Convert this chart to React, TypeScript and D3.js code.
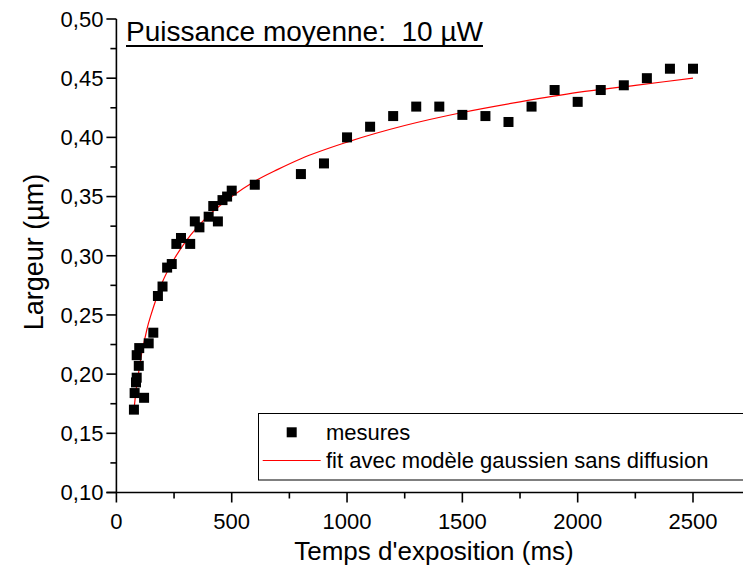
import React from 'react';
import * as d3 from 'd3';

// Measured points: exposure time (ms) and width (µm)
const measureTimes = [76, 79, 85, 88, 97, 88, 99, 120, 140, 160, 180, 200, 220, 240, 260, 280, 320, 340, 360, 400, 420, 440, 460, 480, 500, 600,
  800, 900, 1000, 1100, 1200, 1300, 1400, 1500, 1600, 1700, 1800, 1900, 2000, 2100, 2200, 2300, 2400, 2500];
const measureWidths = [0.170, 0.184, 0.193, 0.197, 0.207, 0.216, 0.222, 0.180, 0.226, 0.235, 0.266, 0.274, 0.290, 0.293, 0.310, 0.315, 0.310, 0.329, 0.324, 0.333, 0.342, 0.329, 0.347, 0.350, 0.355, 0.360,
  0.369, 0.378, 0.400, 0.409, 0.418, 0.426, 0.426, 0.419, 0.418, 0.413, 0.426, 0.440, 0.430, 0.440, 0.444, 0.450, 0.458, 0.458];

// Fit curve
const fitTimes = [76, 80, 85, 90, 100, 110, 120, 135, 150, 175, 200, 250, 300, 350, 400, 500, 600, 700, 800, 1000, 1250, 1500, 1750, 2000, 2250, 2500];
const fitWidths = [0.170, 0.177, 0.186, 0.193, 0.206, 0.218, 0.227, 0.240, 0.250, 0.265, 0.278, 0.297, 0.312, 0.324, 0.334, 0.350, 0.363, 0.373, 0.382, 0.396, 0.410, 0.421, 0.430, 0.438, 0.444, 0.450];

const xMajorTicks = [0, 500, 1000, 1500, 2000, 2500];
const xMinorTicks = [250, 750, 1250, 1750, 2250];
const yMajorTicks = [0.10, 0.15, 0.20, 0.25, 0.30, 0.35, 0.40, 0.45, 0.50];
const yMinorTicks = [0.125, 0.175, 0.225, 0.275, 0.325, 0.375, 0.425, 0.475];

const titleText = 'Puissance moyenne:  10 \u00b5W';
const xLabel = "Temps d'exposition (ms)";
const yLabel = 'Largeur (\u00b5m)';
const legendLabels = ['mesures', 'fit avec modèle gaussien sans diffusion'];

const FONT = '"Liberation Sans", Arial, sans-serif';

export default function App() {
  const W = 743, H = 569;
  const x = d3.scaleLinear().domain([0, 2500]).range([116.4, 693]);
  const y = d3.scaleLinear().domain([0.1, 0.5]).range([492.5, 19]);
  const x0 = x(0), y0 = y(0.1);
  const fmtY = (v: number) => d3.format('.2f')(v).replace('.', ',');
  const fitData: [number, number][] = fitTimes.map((t, i) => [t, fitWidths[i]]);
  const line = d3.line<[number, number]>().x(d => x(d[0])).y(d => y(d[1])).curve(d3.curveMonotoneX);
  const sq = 10;
  const majorLen = 10, minorLen = 6;

  return (
    <svg width={W} height={H} style={{ position: 'absolute', left: 0, top: 0, background: '#fff' }} fontFamily={FONT}>
      <rect x={0} y={0} width={W} height={H} fill="#fff" />
      {/* title */}
      <text x={126} y={41} fontSize={28} style={{ whiteSpace: 'pre' }} fill="#000">{titleText}</text>
      <line x1={126} x2={483} y1={46} y2={46} stroke="#000" strokeWidth={2} />

      {/* legend */}
      <rect x={258.5} y={413.5} width={520} height={66.5} fill="#fff" stroke="#000" strokeWidth={1} />
      <rect x={291.7 - sq / 2} y={432.3 - sq / 2} width={sq} height={sq} fill="#000" />
      <line x1={262.7} x2={320.7} y1={460.5} y2={460.5} stroke="#ff0000" strokeWidth={1} />
      <text x={326} y={440} fontSize={22} fill="#000">{legendLabels[0]}</text>
      <text x={326} y={468} fontSize={22} fill="#000">{legendLabels[1]}</text>

      {/* fit line */}
      <path d={line(fitData) || ''} fill="none" stroke="#ff0000" strokeWidth={1.2} />

      {/* points */}
      {measureTimes.map((t, i) => (
        <rect key={i} x={x(t) - sq / 2} y={y(measureWidths[i]) - sq / 2} width={sq} height={sq} fill="#000" />
      ))}

      {/* axes */}
      <line x1={x0} x2={x0} y1={y(0.5)} y2={y0} stroke="#000" strokeWidth={1.6} />
      <line x1={x0 - majorLen} x2={W + 10} y1={y0} y2={y0} stroke="#000" strokeWidth={1.6} />
      {yMajorTicks.map(v => (
        <g key={'ym' + v}>
          <line x1={x0 - majorLen} x2={x0} y1={y(v)} y2={y(v)} stroke="#000" strokeWidth={1.6} />
          <text x={x0 - majorLen - 3} y={y(v)} dy="0.36em" textAnchor="end" fontSize={22} fill="#000">{fmtY(v)}</text>
        </g>
      ))}
      {yMinorTicks.map(v => (
        <line key={'yn' + v} x1={x0 - minorLen} x2={x0} y1={y(v)} y2={y(v)} stroke="#000" strokeWidth={1.6} />
      ))}
      {xMajorTicks.map(v => (
        <g key={'xm' + v}>
          <line x1={x(v)} x2={x(v)} y1={y0} y2={y0 + majorLen} stroke="#000" strokeWidth={1.6} />
          <text x={x(v)} y={529} textAnchor="middle" fontSize={22} fill="#000">{v}</text>
        </g>
      ))}
      {xMinorTicks.map(v => (
        <line key={'xn' + v} x1={x(v)} x2={x(v)} y1={y0} y2={y0 + minorLen} stroke="#000" strokeWidth={1.6} />
      ))}
      <text x={434} y={560} textAnchor="middle" fontSize={26} fill="#000">{xLabel}</text>
      <text transform={`translate(43, 252) rotate(-90)`} textAnchor="middle" fontSize={27} fill="#000">{yLabel}</text>
    </svg>
  );
}
